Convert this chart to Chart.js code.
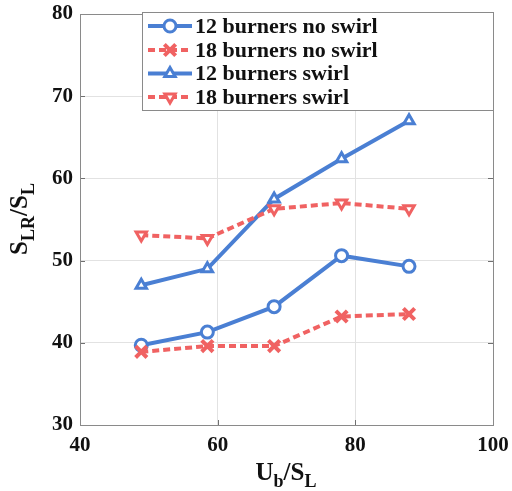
<!DOCTYPE html>
<html>
<head>
<meta charset="utf-8">
<script src="https://cdn.jsdelivr.net/npm/chart.js@4.4.0/dist/chart.umd.min.js"></script>
<style>
  html, body { margin: 0; padding: 0; background: #fff; }
</style>
</head>
<body>
<canvas id="myChart" width="512" height="491"></canvas>
<script>
// values
const ubSl = [48.9, 58.5, 68.2, 78.0, 87.8];
const burners12NoSwirl = [39.7, 41.3, 44.4, 50.6, 49.3];
const burners18NoSwirl = [38.9, 39.6, 39.6, 43.2, 43.5];
const burners12Swirl = [47.0, 49.0, 57.5, 62.4, 67.0];
const burners18Swirl = [53.1, 52.7, 56.3, 57.0, 56.3];
const seriesNames = ['12 burners no swirl', '18 burners no swirl', '12 burners swirl', '18 burners swirl'];
const xTicks = [40, 60, 80, 100];
const yTicks = [30, 40, 50, 60, 70, 80];

const blue = '#4a7fd3';
const red = '#f06262';
const serif = "'Liberation Serif', 'Times New Roman', serif";

function pts(ys) {
    return ys.map((y, i) => ({ x: ubSl[i], y: y }));
}

function lineSet(label, ys, color, dashed, style, rot, order) {
    return {
        label: label,
        data: pts(ys),
        borderColor: color,
        backgroundColor: '#fff',
        borderWidth: 4,
        borderDash: dashed ? [7, 4] : [],
        pointStyle: style,
        pointRotation: rot,
        pointRadius: style === 'crossRot' ? 8 : 6,
        pointBorderWidth: style === 'crossRot' ? 4 : 3,
        pointBorderColor: color,
        pointBackgroundColor: '#fff',
        tension: 0,
        order: order
    };
}

// draws text with subscript parts, centred on (cx, cy baseline)
function drawRich(ctx, runs, cx, cy) {
    let total = 0;
    runs.forEach(r => {
        ctx.font = 'bold ' + r.size + 'px ' + serif;
        r.w = ctx.measureText(r.t).width;
        total += r.w;
    });
    let x = cx - total / 2;
    ctx.textAlign = 'left';
    ctx.textBaseline = 'alphabetic';
    runs.forEach(r => {
        ctx.font = 'bold ' + r.size + 'px ' + serif;
        ctx.fillText(r.t, x, cy + (r.dy || 0));
        x += r.w;
    });
}

const decoPlugin = {
    id: 'deco',
    afterDraw(chart) {
        const ctx = chart.ctx;
        const a = chart.chartArea;
        const xs = chart.scales.x, ys = chart.scales.y;
        ctx.save();

        // inner tick marks
        ctx.strokeStyle = '#707070';
        ctx.lineWidth = 1;
        ctx.beginPath();
        xTicks.forEach(v => {
            const px = Math.round(xs.getPixelForValue(v)) + 0.5;
            ctx.moveTo(px, a.bottom); ctx.lineTo(px, a.bottom - 5);
            ctx.moveTo(px, a.top); ctx.lineTo(px, a.top + 5);
        });
        yTicks.forEach(v => {
            const py = Math.round(ys.getPixelForValue(v)) + 0.5;
            ctx.moveTo(a.left, py); ctx.lineTo(a.left + 5, py);
            ctx.moveTo(a.right, py); ctx.lineTo(a.right - 5, py);
        });
        ctx.stroke();

        // box
        ctx.strokeStyle = '#8a8a8a';
        ctx.strokeRect(Math.round(a.left) + 0.5, Math.round(a.top) + 0.5,
            Math.round(a.right - a.left), Math.round(a.bottom - a.top));

        // legend inside the plot
        const lx = 142.5, ly = 12.5, lw = Math.round(a.right) - 142, lh = 98;
        ctx.fillStyle = '#fff';
        ctx.fillRect(lx, ly, lw, lh);
        ctx.strokeStyle = '#8a8a8a';
        ctx.lineWidth = 1;
        ctx.strokeRect(lx, ly, lw, lh);
        const rows = [26, 50, 73.5, 97];
        chart.data.datasets.forEach((ds, i) => {
            const ry = rows[i];
            ctx.strokeStyle = ds.borderColor;
            ctx.lineWidth = ds.borderWidth;
            ctx.setLineDash(ds.borderDash);
            ctx.beginPath();
            ctx.moveTo(148, ry); ctx.lineTo(192, ry);
            ctx.stroke();
            ctx.setLineDash([]);
            ctx.fillStyle = '#fff';
            ctx.strokeStyle = ds.borderColor;
            ctx.lineWidth = ds.pointBorderWidth;
            Chart.helpers.drawPoint(ctx, {
                pointStyle: ds.pointStyle,
                rotation: ds.pointRotation,
                radius: ds.pointRadius,
                borderWidth: ds.pointBorderWidth
            }, 170, ry);
            ctx.fillStyle = '#111';
            ctx.font = 'bold 22px ' + serif;
            ctx.textAlign = 'left';
            ctx.textBaseline = 'middle';
            ctx.fillText(ds.label, 195, ry + 1);
        });

        // axis titles with subscripts
        ctx.fillStyle = '#111';
        drawRich(ctx, [
            { t: 'U', size: 25 }, { t: 'b', size: 18, dy: 7 },
            { t: '/S', size: 25 }, { t: 'L', size: 18, dy: 7 }
        ], 286, 480);
        ctx.translate(27, 219);
        ctx.rotate(-Math.PI / 2);
        drawRich(ctx, [
            { t: 'S', size: 25 }, { t: 'LR', size: 18, dy: 7 },
            { t: '/S', size: 25 }, { t: 'L', size: 18, dy: 7 }
        ], 0, 0);
        ctx.restore();
    }
};

let myChart = document.getElementById('myChart').getContext('2d');

let dataChart = new Chart(myChart, {
    type: 'line',
    data: {
        datasets: [
            lineSet(seriesNames[0], burners12NoSwirl, blue, false, 'circle', 0, 3),
            lineSet(seriesNames[1], burners18NoSwirl, red, true, 'crossRot', 0, 2),
            lineSet(seriesNames[2], burners12Swirl, blue, false, 'triangle', 0, 1),
            lineSet(seriesNames[3], burners18Swirl, red, true, 'triangle', 180, 0)
        ]
    },
    options: {
        responsive: false,
        animation: false,
        plugins: {
            legend: { display: false },
            tooltip: { enabled: false }
        },
        layout: {
            padding: { top: 14, right: 19, left: 0, bottom: 0 }
        },
        scales: {
            x: {
                type: 'linear',
                min: 40,
                max: 100,
                afterFit: (scale) => {
                    scale.height = 66;
                    scale.paddingLeft = 0;
                    scale.paddingRight = 0;
                },
                afterBuildTicks: (scale) => { scale.ticks = xTicks.map(v => ({ value: v })); },
                grid: { color: '#e2e2e2', drawTicks: false },
                border: { display: false },
                ticks: {
                    padding: 8,
                    color: '#111',
                    font: { family: serif, size: 21, weight: 'bold' }
                }
            },
            y: {
                type: 'linear',
                min: 30,
                max: 80,
                afterFit: (scale) => {
                    scale.width = 80;
                    scale.paddingTop = 0;
                    scale.paddingBottom = 0;
                },
                afterBuildTicks: (scale) => { scale.ticks = yTicks.map(v => ({ value: v })); },
                grid: { color: '#e2e2e2', drawTicks: false },
                border: { display: false },
                ticks: {
                    padding: 7,
                    color: '#111',
                    font: { family: serif, size: 21, weight: 'bold' }
                }
            }
        }
    },
    plugins: [decoPlugin]
});
</script>
</body>
</html>
